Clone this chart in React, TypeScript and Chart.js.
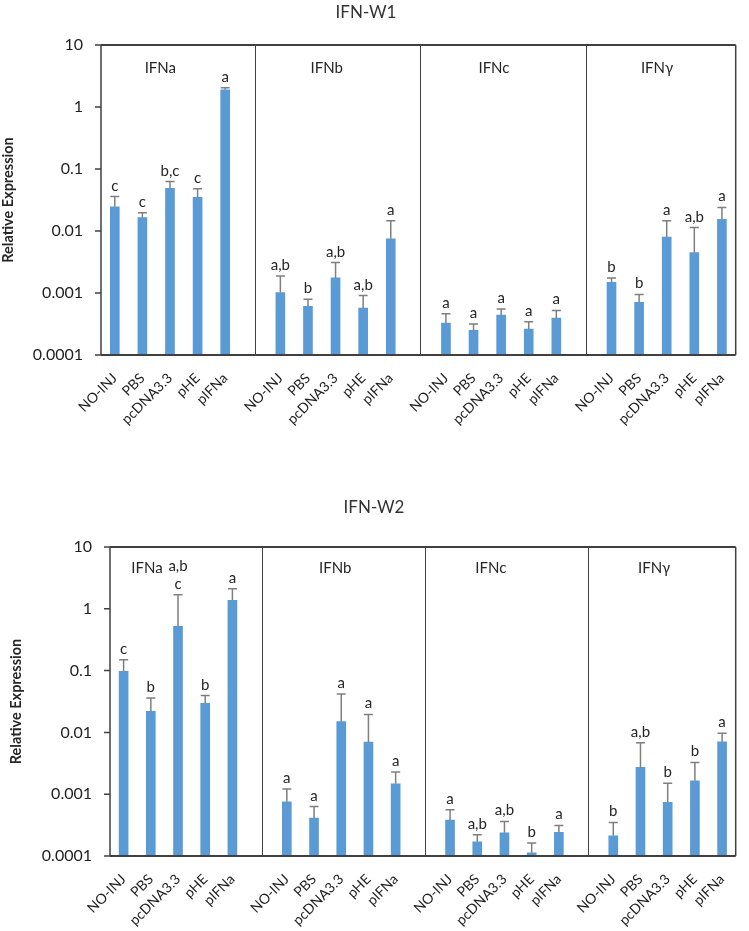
import React, { useEffect, useRef } from 'react';
import { Chart, registerables } from 'chart.js';

Chart.register(...registerables);

const FONT = "Lato, 'Open Sans', 'Liberation Sans', sans-serif";

// ---- shared labels ----
const treatments = ['NO-INJ', 'PBS', 'pcDNA3.3', 'pHE', 'pIFNa'];
const genes = ['IFNa', 'IFNb', 'IFNc', 'IFNγ'];
const yTickValues = [0.0001, 0.001, 0.01, 0.1, 1, 10];
const yTickLabels = ['0.0001', '0.001', '0.01', '0.1', '1', '10'];

// ---- IFN-W1 ----
const w1IFNa = [0.0245, 0.0164, 0.049, 0.035, 1.89];
const w1IFNaSD = [0.0115, 0.0033, 0.0137, 0.0129, 0.15];
const w1IFNaSig = ['c', 'c', 'b,c', 'c', 'a'];
const w1IFNb = [0.00102, 0.00061, 0.00175, 0.00057, 0.0075];
const w1IFNbSD = [0.00086, 0.00018, 0.00135, 0.00034, 0.0072];
const w1IFNbSig = ['a,b', 'b', 'a,b', 'a,b', 'a'];
const w1IFNc = [0.000327, 0.000249, 0.00044, 0.000262, 0.000394];
const w1IFNcSD = [0.000134, 0.000066, 0.00011, 0.000081, 0.000129];
const w1IFNcSig = ['a', 'a', 'a', 'a', 'a'];
const w1IFNg = [0.00148, 0.00071, 0.008, 0.00448, 0.0154];
const w1IFNgSD = [0.00027, 0.00024, 0.0067, 0.0069, 0.0086];
const w1IFNgSig = ['b', 'b', 'a', 'a,b', 'a'];

// ---- IFN-W2 ----
const w2IFNa = [0.0975, 0.022, 0.52, 0.0296, 1.37];
const w2IFNaSD = [0.0525, 0.014, 1.17, 0.0099, 0.74];
const w2IFNaSig = ['c', 'b', 'a,b\nc', 'b', 'a'];
const w2IFNb = [0.000753, 0.00041, 0.015, 0.00695, 0.00147];
const w2IFNbSD = [0.000457, 0.00022, 0.027, 0.01255, 0.00081];
const w2IFNbSig = ['a', 'a', 'a', 'a', 'a'];
const w2IFNc = [0.000382, 0.00017, 0.000238, 0.000113, 0.000242];
const w2IFNcSD = [0.000178, 0.000051, 0.000125, 0.000049, 0.000071];
const w2IFNcSig = ['a', 'a,b', 'a,b', 'b', 'a'];
const w2IFNg = [0.000213, 0.00271, 0.000738, 0.00165, 0.00703];
const w2IFNgSD = [0.000137, 0.00409, 0.000772, 0.00162, 0.00267];
const w2IFNgSig = ['b', 'a,b', 'b', 'b', 'a'];

type Group = { mean: number[]; sd: number[]; sig: string[] };

const w1Groups: Group[] = [
  { mean: w1IFNa, sd: w1IFNaSD, sig: w1IFNaSig },
  { mean: w1IFNb, sd: w1IFNbSD, sig: w1IFNbSig },
  { mean: w1IFNc, sd: w1IFNcSD, sig: w1IFNcSig },
  { mean: w1IFNg, sd: w1IFNgSD, sig: w1IFNgSig },
];
const w2Groups: Group[] = [
  { mean: w2IFNa, sd: w2IFNaSD, sig: w2IFNaSig },
  { mean: w2IFNb, sd: w2IFNbSD, sig: w2IFNbSig },
  { mean: w2IFNc, sd: w2IFNcSD, sig: w2IFNcSig },
  { mean: w2IFNg, sd: w2IFNgSD, sig: w2IFNgSig },
];

// ---- layout (not data) ----
type PanelLayout = {
  title: string;
  top: number;
  height: number;
  area: { left: number; right: number; top: number; bottom: number };
  xAxisH: number;
  titleX: number;
  titleY: number;
  yTitleX: number;
  groupLabelShift: number[]; // in category units, relative to group centre
  groupLabelDy: number;
};

const W = 749;
const Y_AXIS_W = 90;

const panel1: PanelLayout = {
  title: 'IFN-W1',
  top: 0,
  height: 460,
  area: { left: 101, right: 739, top: 45, bottom: 355 },
  xAxisH: 90,
  titleX: 366,
  titleY: 13,
  yTitleX: 8,
  groupLabelShift: [-0.35, -0.32, -0.26, -0.35],
  groupLabelDy: 23,
};
const panel2: PanelLayout = {
  title: 'IFN-W2',
  top: 460,
  height: 471,
  area: { left: 110, right: 748, top: 87, bottom: 396 },
  xAxisH: 75,
  titleX: 374,
  titleY: 48,
  yTitleX: 16,
  groupLabelShift: [-1.14, -0.22, -0.5, -0.5],
  groupLabelDy: 21,
};

function buildSeries(groups: Group[]) {
  const labels: string[] = [];
  const values: (number | null)[] = [];
  const sds: (number | null)[] = [];
  const sigs: (string | null)[] = [];
  const blanks: number[] = [];
  const centers: number[] = [];
  groups.forEach((g, gi) => {
    const start = labels.length;
    treatments.forEach((t, i) => {
      labels.push(t);
      values.push(g.mean[i]);
      sds.push(g.sd[i]);
      sigs.push(g.sig[i]);
    });
    centers.push(start + (treatments.length - 1) / 2);
    if (gi < groups.length - 1) {
      blanks.push(labels.length);
      labels.push('');
      values.push(null);
      sds.push(null);
      sigs.push(null);
    }
  });
  return { labels, values, sds, sigs, blanks, centers };
}

function Panel({ groups, layout }: { groups: Group[]; layout: PanelLayout }) {
  const ref = useRef<HTMLCanvasElement | null>(null);
  useEffect(() => {
    if (!ref.current) return;
    const s = buildSeries(groups);
    const a = layout.area;
    const H = layout.height;

    const decor = {
      id: 'decor',
      afterDatasetsDraw(chart: any) {
        const ctx = chart.ctx;
        const xs = chart.scales.x;
        const ys = chart.scales.y;
        const ca = chart.chartArea;
        const meta = chart.getDatasetMeta(0);
        const step = xs.getPixelForValue(1) - xs.getPixelForValue(0);
        ctx.save();

        // error bars
        ctx.strokeStyle = '#7f7f7f';
        ctx.lineWidth = 1.5;
        s.values.forEach((v, i) => {
          if (v == null) return;
          const el = meta.data[i];
          const top = ys.getPixelForValue(v + (s.sds[i] as number));
          ctx.beginPath();
          ctx.moveTo(el.x, el.y);
          ctx.lineTo(el.x, top);
          ctx.moveTo(el.x - 4.5, top);
          ctx.lineTo(el.x + 4.5, top);
          ctx.stroke();
        });

        // significance letters
        ctx.fillStyle = '#262626';
        ctx.font = `15px ${FONT}`;
        ctx.textAlign = 'center';
        ctx.textBaseline = 'alphabetic';
        s.values.forEach((v, i) => {
          if (v == null) return;
          const el = meta.data[i];
          const top = ys.getPixelForValue(v + (s.sds[i] as number));
          const lines = (s.sigs[i] as string).split('\n');
          lines.forEach((ln, li) => {
            const y = top - 6 - (lines.length - 1 - li) * 18;
            ctx.fillText(ln, el.x, y);
          });
        });

        // plot frame
        ctx.strokeStyle = '#404040';
        ctx.lineWidth = 2;
        ctx.beginPath();
        ctx.moveTo(ca.left, ca.top);
        ctx.lineTo(ca.right, ca.top);
        ctx.moveTo(ca.left, ca.bottom);
        ctx.lineTo(ca.right, ca.bottom);
        ctx.stroke();
        ctx.lineWidth = 1.5;
        ctx.beginPath();
        ctx.moveTo(ca.left, ca.top);
        ctx.lineTo(ca.left, ca.bottom);
        ctx.moveTo(ca.right, ca.top);
        ctx.lineTo(ca.right, ca.bottom);
        ctx.stroke();

        // y tick marks
        ctx.lineWidth = 1.5;
        ctx.beginPath();
        yTickValues.forEach((t) => {
          const y = ys.getPixelForValue(t);
          ctx.moveTo(ca.left - 6, y);
          ctx.lineTo(ca.left, y);
        });
        ctx.stroke();

        // group separators
        ctx.lineWidth = 1;
        ctx.strokeStyle = '#404040';
        s.blanks.forEach((b) => {
          const x = Math.round(xs.getPixelForValue(b) + 0.07 * step) + 0.5;
          ctx.beginPath();
          ctx.moveTo(x, ca.top);
          ctx.lineTo(x, ca.bottom);
          ctx.stroke();
        });

        // group labels
        ctx.fillStyle = '#262626';
        ctx.font = `15px ${FONT}`;
        ctx.textAlign = 'center';
        ctx.textBaseline = 'middle';
        genes.forEach((g, gi) => {
          const x = xs.getPixelForValue(s.centers[gi] + layout.groupLabelShift[gi]);
          ctx.fillText(g, x, ca.top + layout.groupLabelDy);
        });

        // title
        ctx.fillStyle = '#333333';
        ctx.font = `17px ${FONT}`;
        ctx.fillText(layout.title, layout.titleX, layout.titleY);

        // y-axis title
        ctx.save();
        ctx.translate(layout.yTitleX, (ca.top + ca.bottom) / 2);
        ctx.rotate(-Math.PI / 2);
        ctx.font = `bold 14.5px ${FONT}`;
        ctx.fillStyle = '#262626';
        ctx.fillText('Relative Expression', 0, 0);
        ctx.restore();

        ctx.restore();
      },
    };

    const chart = new Chart(ref.current, {
      type: 'bar',
      data: {
        labels: s.labels,
        datasets: [
          {
            data: s.values as any,
            backgroundColor: '#5B9BD5',
            borderWidth: 0,
            barThickness: 9,
          },
        ],
      },
      options: {
        animation: false,
        responsive: false,
        maintainAspectRatio: false,
        layout: {
          padding: {
            left: a.left - Y_AXIS_W,
            right: W - a.right,
            top: a.top,
            bottom: Math.max(0, H - a.bottom - layout.xAxisH),
          },
        },
        plugins: {
          legend: { display: false },
          tooltip: { enabled: false },
          title: { display: false },
        },
        scales: {
          x: {
            offset: true,
            grid: { display: false, drawTicks: false },
            border: { display: false },
            ticks: {
              autoSkip: false,
              maxRotation: 45,
              minRotation: 45,
              padding: 15,
              color: '#1f1f1f',
              font: { family: FONT, size: 14 },
            },
            afterFit: (sc: any) => {
              sc.height = layout.xAxisH;
            },
          },
          y: {
            type: 'logarithmic',
            min: 0.0001,
            max: 10,
            grid: { display: false, drawTicks: false },
            border: { display: false },
            afterBuildTicks: (sc: any) => {
              sc.ticks = yTickValues.map((v) => ({ value: v }));
            },
            ticks: {
              padding: 18,
              color: '#1f1f1f',
              font: { family: FONT, size: 16 },
              callback: (v: any) => {
                const idx = yTickValues.findIndex((t) => Math.abs(t - Number(v)) / t < 1e-6);
                return idx >= 0 ? yTickLabels[idx] : '';
              },
            },
            afterFit: (sc: any) => {
              sc.width = Y_AXIS_W;
            },
          },
        },
      } as any,
      plugins: [decor],
    });
    return () => chart.destroy();
  }, [groups, layout]);

  return (
    <canvas
      ref={ref}
      width={W}
      height={layout.height}
      style={{ position: 'absolute', left: 0, top: layout.top, width: W, height: layout.height }}
    />
  );
}

export default function App() {
  return (
    <div style={{ position: 'absolute', left: 0, top: 0, width: W, height: 931, background: '#fff' }}>
      <Panel groups={w1Groups} layout={panel1} />
      <Panel groups={w2Groups} layout={panel2} />
    </div>
  );
}
